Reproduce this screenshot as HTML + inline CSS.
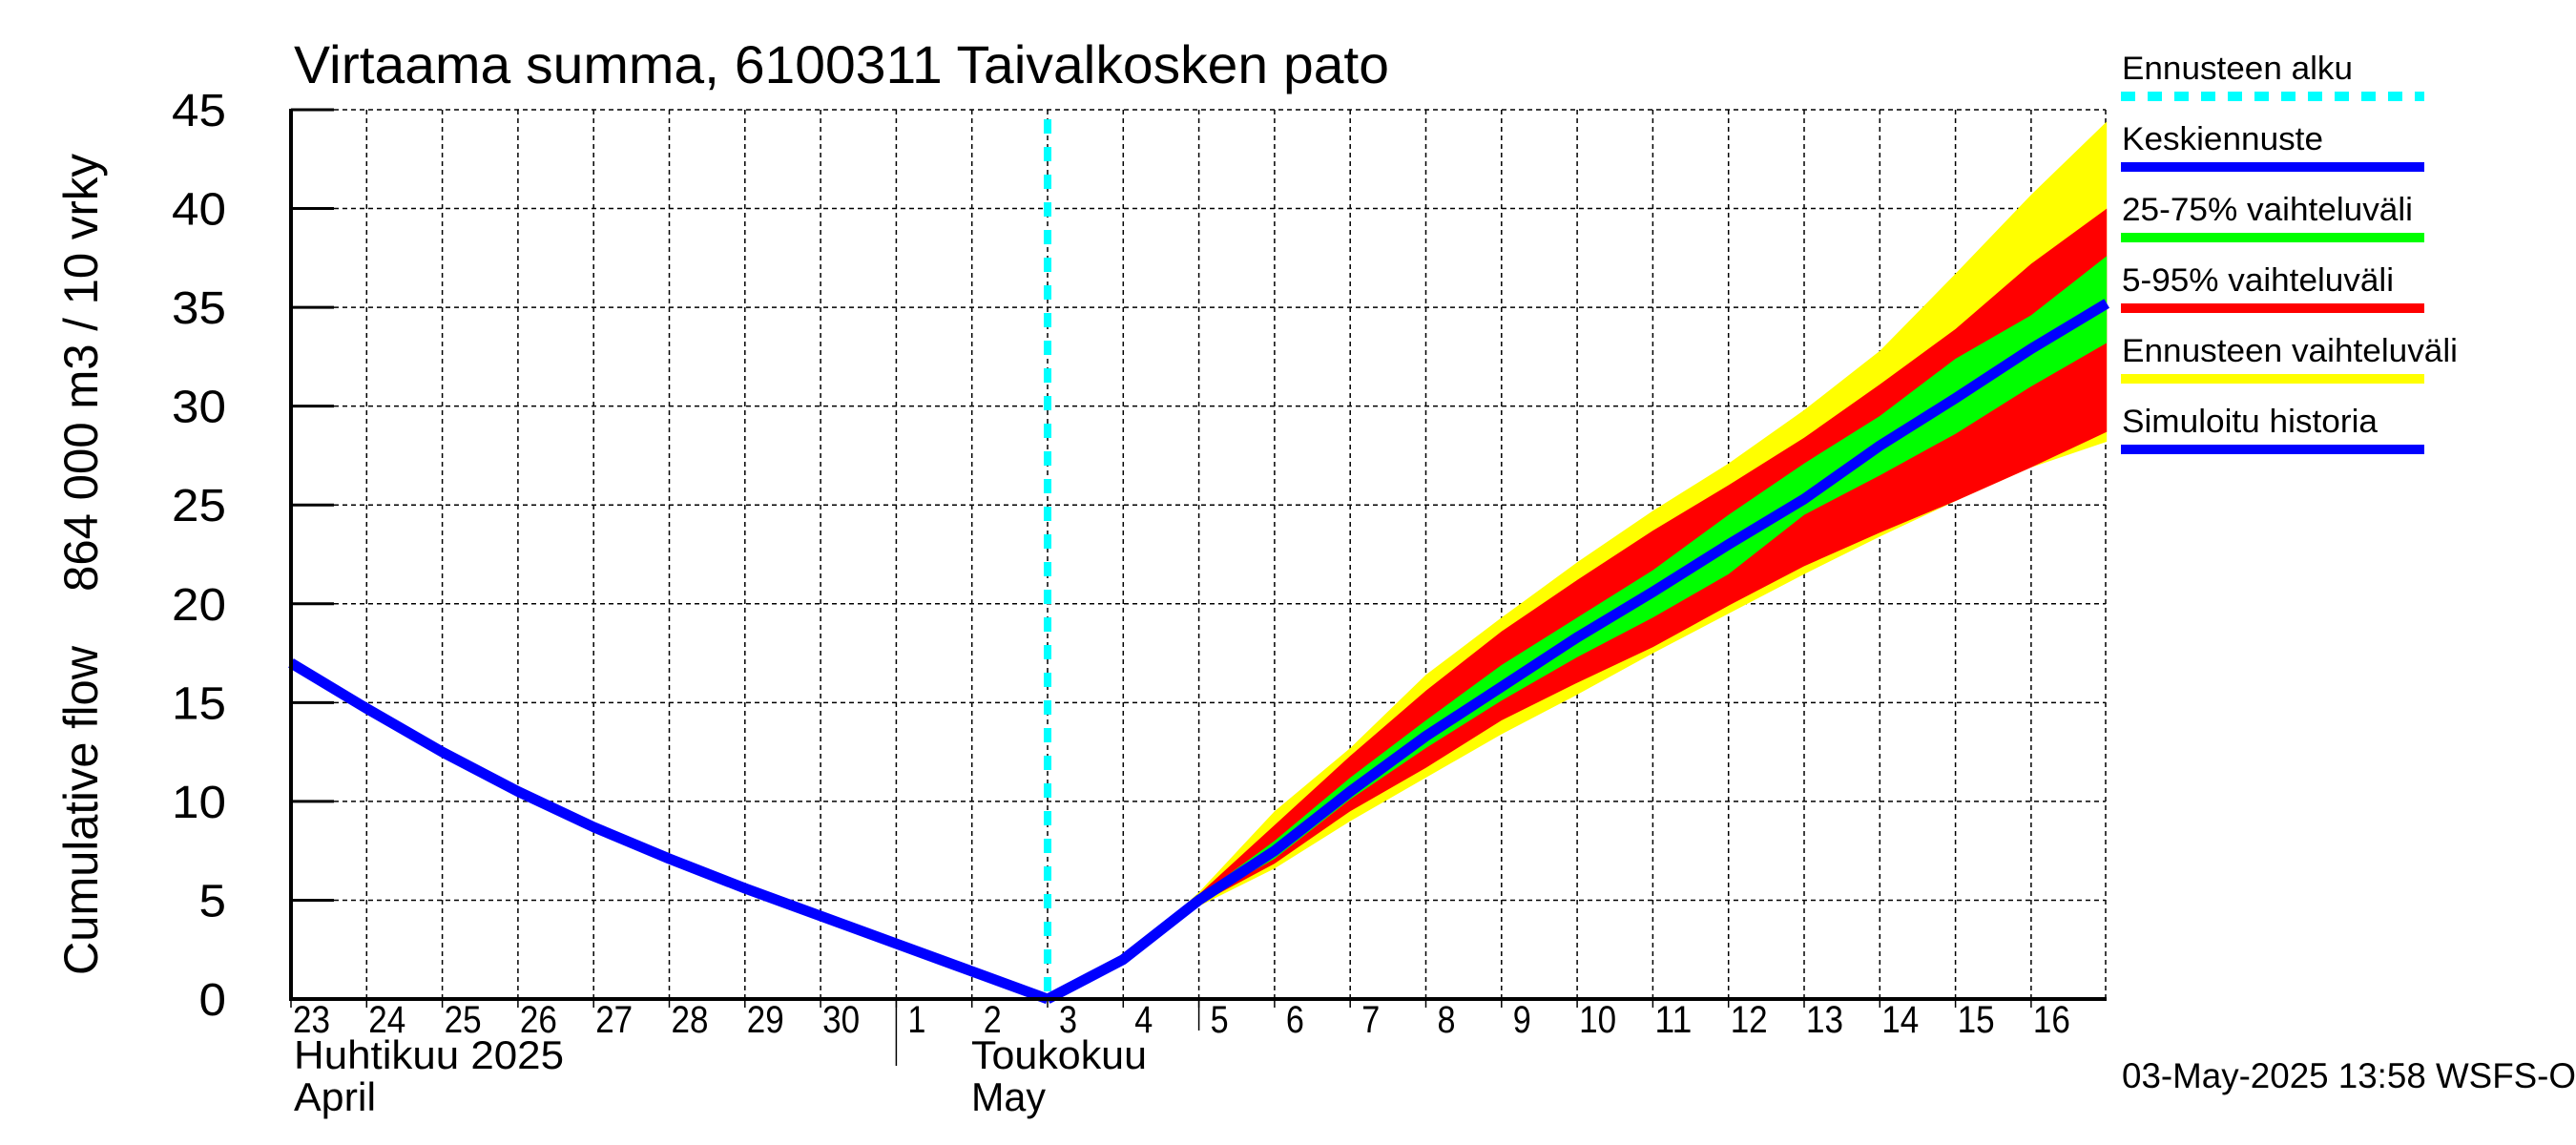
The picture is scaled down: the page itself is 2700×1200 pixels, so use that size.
<!DOCTYPE html>
<html><head><meta charset="utf-8"><style>
html,body{margin:0;padding:0;background:#fff;}
svg{display:block;font-family:"Liberation Sans",sans-serif;}
</style></head><body>
<svg id="chart" width="2700" height="1200" viewBox="0 0 2700 1200" xmlns="http://www.w3.org/2000/svg">
<rect width="2700" height="1200" fill="#fff"/>
<text x="308" y="87" font-size="56" textLength="1148" lengthAdjust="spacingAndGlyphs">Virtaama summa, 6100311 Taivalkosken pato</text>
<text transform="translate(102,1022) rotate(-90)" font-size="50" textLength="345" lengthAdjust="spacingAndGlyphs">Cumulative flow</text>
<text transform="translate(102,620) rotate(-90)" font-size="50" textLength="459" lengthAdjust="spacingAndGlyphs">864 000 m3 / 10 vrky</text>
<g id="grid"></g>
<g id="bands"></g>
<g id="lines"></g>
<g id="axes"></g>
<g id="legend"></g>
<text x="2224" y="1140" font-size="37" textLength="476" lengthAdjust="spacingAndGlyphs">03-May-2025 13:58 WSFS-O</text>
</svg>
<script>
// data
const dayLabels = ["23","24","25","26","27","28","29","30","1","2","3","4","5","6","7","8","9","10","11","12","13","14","15","16"];
const yTicks = [0,5,10,15,20,25,30,35,40,45];
const histDays = [0,1,2,3,4,5,6,7,8,9,10];
const histValues = [17.0,14.7,12.5,10.5,8.7,7.1,5.6,4.2,2.8,1.4,0.0];
const fcDays = [10,11,12,13,14,15,16,17,18,19,20,21,22,23,24];
const meanValues = [0.0,2.0,5.0,7.5,10.5,13.3,15.8,18.3,20.6,23.0,25.3,28.0,30.4,32.9,35.2];
const yellowHigh = [0.0,2.0,5.4,9.5,12.7,16.4,19.3,22.1,24.7,27.1,29.8,32.8,36.7,40.7,44.4];
const redHigh    = [0.0,2.0,5.3,8.8,12.3,15.6,18.6,21.2,23.7,26.0,28.4,31.1,33.9,37.2,40.0];
const greenHigh  = [0.0,2.0,5.2,8.0,11.2,14.1,16.9,19.3,21.7,24.5,27.1,29.5,32.4,34.6,37.6];
const greenLow   = [0.0,2.0,4.9,7.1,10.1,12.7,15.1,17.3,19.3,21.5,24.5,26.5,28.6,31.0,33.2];
const redLow     = [0.0,2.0,4.8,6.85,9.5,11.7,14.1,16.0,17.8,19.9,21.9,23.6,25.2,26.9,28.7];
const yellowLow  = [0.0,2.0,4.7,6.6,9.0,11.2,13.4,15.4,17.5,19.5,21.5,23.4,25.2,26.9,28.2];
const forecastStartDay = 10;

const NS="http://www.w3.org/2000/svg";
const X0=305, DW=79.3, Y0=1047, YT=115, XR=2207;
const xs=d=>X0+d*DW;
const ys=v=>Y0-(v/45)*(Y0-YT);
function mk(tag,attrs,parent){const e=document.createElementNS(NS,tag);for(const k in attrs)e.setAttribute(k,attrs[k]);parent.appendChild(e);return e;}
const grid=document.getElementById('grid'),bands=document.getElementById('bands'),lines=document.getElementById('lines'),axes=document.getElementById('axes'),legend=document.getElementById('legend');

yTicks.forEach(v=>{
  if(v===0)return;
  const l=mk('line',{x1:X0,x2:XR,y1:ys(v),y2:ys(v),stroke:'#000','stroke-width':1.5,'stroke-dasharray':'5,4'},grid);
  
  
});
dayLabels.forEach((lab,i)=>{
  if(i===0)return;
  const l=mk('line',{x1:xs(i),x2:xs(i),y1:YT,y2:Y0,stroke:'#000','stroke-width':1.5,'stroke-dasharray':'5,4'},grid);
  
  
});
const rb=mk('line',{x1:XR,x2:XR,y1:YT,y2:Y0,stroke:'#000','stroke-width':1.5,'stroke-dasharray':'5,4'},grid);



function band(hi,lo,color,name){
  let d='';
  fcDays.forEach((dd,i)=>{d+=(i?'L':'M')+xs(dd).toFixed(1)+','+ys(hi[i]).toFixed(1);});
  for(let i=fcDays.length-1;i>=0;i--)d+='L'+xs(fcDays[i]).toFixed(1)+','+ys(lo[i]).toFixed(1);
  const p=mk('path',{d:d+'Z',fill:color},bands);
  
  
}
band(yellowHigh,yellowLow,'#ffff00','band-forecast-range');
band(redHigh,redLow,'#ff0000','band-5-95');
band(greenHigh,greenLow,'#00ff00','band-25-75');

const fs=mk('line',{x1:xs(forecastStartDay),x2:xs(forecastStartDay),y1:YT+10,y2:Y0,stroke:'#00ffff','stroke-width':8,'stroke-dasharray':'15,14'},lines);



function poly(days,vals,name){
  const pts=days.map((d,i)=>xs(d).toFixed(1)+','+ys(vals[i]).toFixed(1)).join(' ');
  const p=mk('polyline',{points:pts,fill:'none',stroke:'#0000ff','stroke-width':11,'stroke-linejoin':'round'},lines);
  
  
}
poly(histDays,histValues,'simulated-history-line');
poly(fcDays,meanValues,'mean-forecast-line');

const ya=mk('line',{x1:X0,x2:X0,y1:YT-1,y2:Y0+2,stroke:'#000','stroke-width':4},axes);


const xa=mk('line',{x1:X0-2,x2:XR+1,y1:Y0,y2:Y0,stroke:'#000','stroke-width':4},axes);


yTicks.forEach(v=>{
  const t=mk('line',{x1:X0,x2:X0+45,y1:ys(v),y2:ys(v),stroke:'#000','stroke-width':3},axes);
  
  
  const s=String(v);
  const tx=mk('text',{x:237,y:ys(v)+17,'font-size':48,'text-anchor':'end',textLength:28.5*s.length,lengthAdjust:'spacingAndGlyphs'},axes);
  tx.textContent=s;
  
  
});
dayLabels.forEach((lab,i)=>{
  const t=mk('line',{x1:xs(i),x2:xs(i),y1:Y0,y2:Y0+9,stroke:'#000','stroke-width':1.5},axes);
  
  
  const tx=mk('text',{x:xs(i)+(lab.length>1?2:12),y:1082,'font-size':40,textLength:(lab.length>1?39:19),lengthAdjust:'spacingAndGlyphs'},axes);
  tx.textContent=lab;
  
  
});
const ms=mk('line',{x1:xs(8),x2:xs(8),y1:Y0,y2:1117,stroke:'#000','stroke-width':1.5},axes);


const ws=mk('line',{x1:xs(12),x2:xs(12),y1:Y0,y2:1080,stroke:'#000','stroke-width':1.5},axes);


[["Huhtikuu  2025",308,1120,283,'month-label-fi-april'],["April",308,1164,86,'month-label-en-april'],["Toukokuu",1018,1120,184,'month-label-fi-may'],["May",1018,1164,78,'month-label-en-may']].forEach(m=>{
  const tx=mk('text',{x:m[1],y:m[2],'font-size':42,textLength:m[3],lengthAdjust:'spacingAndGlyphs','xml:space':'preserve'},axes);
  tx.textContent=m[0];
  
  
});

const legItems=[["Ennusteen alku",'#00ffff',242,true],["Keskiennuste",'#0000ff',211,false],["25-75% vaihteluväli",'#00ff00',305,false],["5-95% vaihteluväli",'#ff0000',285,false],["Ennusteen vaihteluväli",'#ffff00',352,false],["Simuloitu historia",'#0000ff',268,false]];
legItems.forEach((it,i)=>{
  const by=83+i*74;
  const tx=mk('text',{x:2224,y:by,'font-size':34,textLength:it[2],lengthAdjust:'spacingAndGlyphs'},legend);
  tx.textContent=it[0];
  
  
  const a={x1:2223,x2:2541,y1:by+18,y2:by+18,stroke:it[1],'stroke-width':10};
  if(it[3])a['stroke-dasharray']='15,13';
  const l=mk('line',a,legend);
  
  
});
</script>
</body></html>
